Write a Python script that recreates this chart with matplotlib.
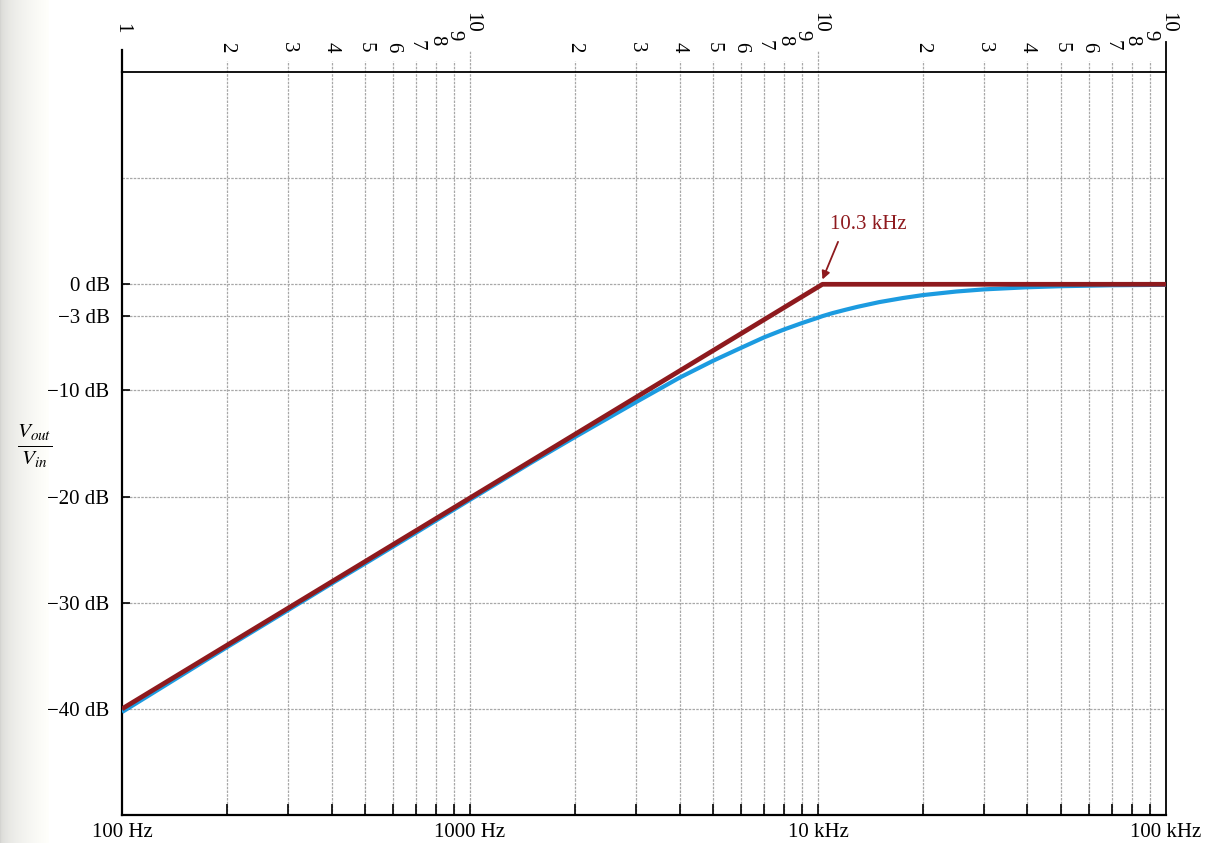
import matplotlib.pyplot as plt
import matplotlib.transforms as mtransforms
import numpy as np

plt.rcParams['font.family'] = ['Liberation Serif', 'DejaVu Serif']
plt.rcParams['mathtext.fontset'] = 'stix'

# measured response of the high-pass filter (blue curve)
freq_hz = [100, 200, 300, 400, 500, 700, 1000, 1500, 2000, 3000, 4000, 5000,
           6000, 7000, 8000, 9000, 10000, 10300, 11000, 12000, 13000, 15000,
           17500, 20000, 25000, 30000, 40000, 50000, 70000, 100000]
response_db = [-40.3, -34.2, -30.7, -28.2, -26.3, -23.4, -20.3, -16.8, -14.4,
               -11.1, -8.8, -7.2, -6.0, -5.0, -4.25, -3.65, -3.15, -3.0, -2.72,
               -2.4, -2.12, -1.68, -1.3, -1.02, -0.68, -0.48, -0.28, -0.18,
               -0.09, -0.05]

# straight-line (asymptotic) approximation (red)
asym_hz = [100, 10300, 100000]
asym_db = [-40, 0, 0]
corner_label = '10.3 kHz'

db_ticks = [0, -3, -10, -20, -30, -40]
db_labels = ['0 dB', '\u22123 dB', '\u221210 dB', '\u221220 dB', '\u221230 dB', '\u221240 dB']
db_grid = [10, 0, -3, -10, -20, -30, -40]

decade_hz = [100, 1000, 10000, 100000]
decade_labels = ['100 Hz', '1000 Hz', '10 kHz', '100 kHz']

RED = '#8e1a1e'
BLUE = '#1c9be0'
GRID = '#a8a8a8'
FS = 15

fig = plt.figure(figsize=(12.08, 8.43), dpi=100)

# shaded page edge on the left
edge = fig.add_axes([0, 0, 0.04, 1])
shade = np.linspace(0, 1, 60) ** 0.45
shade = np.clip(0.83 + 0.17 * shade, 0, 1)
img = np.tile(shade, (10, 1))
edge.imshow(np.dstack([img, img, img * 0.985]), aspect='auto', extent=[0, 1, 0, 1])
edge.axis('off')

ax = fig.add_axes([0.101, 0.0332, 0.8642, 0.8814])
ax.set_xscale('log')
ax.set_xlim(100, 100000)
ax.set_ylim(-50, 20)
ax.patch.set_alpha(0)

trans = mtransforms.blended_transform_factory(ax.transData, ax.transAxes)

# vertical grid of the semilog paper, poking out above the top edge
minor_x = [m * d for d in decade_hz[:-1] for m in range(2, 10)]
ax.vlines(minor_x, 0, 1.015, transform=trans, colors=GRID, lw=0.9,
          linestyles=(0, (2, 1)), clip_on=False, zorder=1)
ax.vlines(decade_hz[1:3], 0, 1.03, transform=trans, colors=GRID, lw=0.9,
          linestyles=(0, (2, 1)), clip_on=False, zorder=1)
ax.hlines(db_grid, 100, 100000, colors=GRID, lw=0.9, linestyles=(0, (2, 1)), zorder=1)

# curves
ax.plot(freq_hz, response_db, color=BLUE, lw=3.0, solid_capstyle='butt', zorder=3)
ax.plot(asym_hz, asym_db, color=RED, lw=3.4, solid_capstyle='butt', zorder=4)

ax.text(10800, 5.6, corner_label, color=RED, fontsize=FS, ha='left', va='center')
ax.annotate('', xy=(asym_hz[1], 0.45), xytext=(11420, 4.0),
            arrowprops=dict(arrowstyle='-|>', color=RED, lw=1.3,
                            mutation_scale=12, shrinkA=0, shrinkB=0))

# axes frame
for side in ['left', 'bottom', 'top', 'right']:
    ax.spines[side].set_color('black')
ax.spines['left'].set_linewidth(1.6)
ax.spines['bottom'].set_linewidth(1.6)
ax.spines['top'].set_linewidth(1.3)
ax.spines['right'].set_linewidth(1.3)
ax.plot([100, 100], [1, 1.03], transform=trans, color='black', lw=1.6, clip_on=False)
ax.plot([100000, 100000], [1, 1.04], transform=trans, color='black', lw=1.3, clip_on=False)

ax.set_xticks(minor_x + decade_hz[1:3])
ax.set_xticks([], minor=True)
ax.tick_params(axis='x', which='both', direction='in', length=8, width=1.2,
               labelbottom=False, top=False)
ax.set_yticks(db_ticks)
ax.set_yticklabels(db_labels)
ax.tick_params(axis='y', direction='in', length=6, width=1.2, labelsize=FS, pad=9)
ax.set_yticks([], minor=True)

for f, lab in zip(decade_hz, decade_labels):
    ax.text(f, -0.024, lab, transform=trans, ha='center', va='center', fontsize=FS)

# cycle digits along the top
ax.text(100, 1.059, '1', transform=trans, rotation=-90, ha='center', va='center', fontsize=FS)
digit_y = {2: 1.0337, 3: 1.0337, 4: 1.0337, 5: 1.0337, 6: 1.0337, 7: 1.036, 8: 1.043, 9: 1.050}
for d in decade_hz[:-1]:
    for m in range(2, 10):
        ax.text(m * d, digit_y[m], str(m), transform=trans, rotation=-90,
                ha='center', va='center', fontsize=FS)
for d in decade_hz[1:]:
    ax.text(d * 1.01, 1.067, '10', transform=trans, rotation=-90,
            ha='center', va='center', fontsize=FS)

fig.text(0.029, 0.472, r'$\frac{V_{out}}{V_{in}}$', fontsize=22, ha='center', va='center')

fig.savefig('out.png', dpi=100)
